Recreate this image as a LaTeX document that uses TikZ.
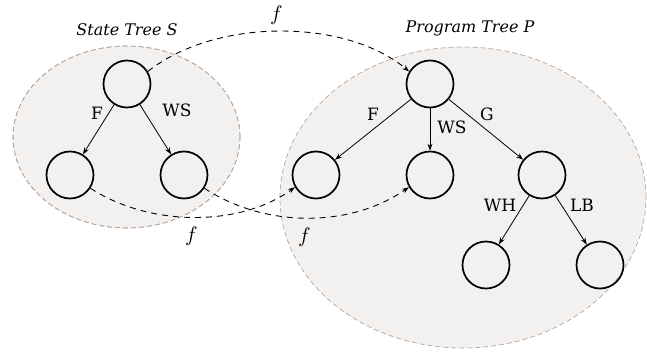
\documentclass[tikz,border=0pt]{standalone}
\usepackage{fontspec}
\setmainfont{DejaVu Serif}
\usepackage{unicode-math}
\setmathfont{Latin Modern Math}
\usetikzlibrary{arrows.meta}
\definecolor{blobfill}{RGB}{243,241,239}
\definecolor{blobline}{RGB}{185,165,150}
\begin{document}
\begin{tikzpicture}[x=1pt,y=-1pt,
  every node/.style={font=\fontsize{16}{19}\selectfont},
  blob/.style={draw=blobline,fill=blobfill,line width=0.7pt,dash pattern=on 5pt off 3pt},
  tn/.style={draw,circle,minimum size=47pt,inner sep=0pt,line width=1.7pt},
  edge/.style={-{Stealth[length=7pt,width=5pt]},line width=0.8pt},
  map/.style={-{Stealth[length=7pt,width=5pt]},line width=0.9pt,dash pattern=on 6pt off 5pt},
  lbl/.style={inner sep=0pt,font=\fontsize{17}{20}\selectfont},
  flbl/.style={inner sep=0pt,font=\fontsize{21}{24}\selectfont}]
\useasboundingbox (0,0) rectangle (647,353);
\fill[blob] (126.5,137) ellipse [x radius=113.5pt, y radius=91pt];
\fill[blob] (463,197.5) ellipse [x radius=183pt, y radius=150.5pt];
\draw[blob,fill=none] (126.5,137) ellipse [x radius=113.5pt, y radius=91pt];
% titles
\node (ts) at (127,30) {\itshape State Tree S};
\node (tp) at (470,28) {\itshape Program Tree P};
% state tree
\node[tn] (s0) at (127,84) {};
\node[tn] (s1) at (70,175) {};
\node[tn] (s2) at (184,175) {};
\draw[edge] (s0) -- (s1);
\draw[edge] (s0) -- (s2);
\node[lbl] (ls1) at (97,113) {F};
\node[lbl] (ls2) at (177,110) {WS};
% program tree
\node[tn] (p0) at (430,84) {};
\node[tn] (p1) at (316,175) {};
\node[tn] (p2) at (430,175) {};
\node[tn] (p3) at (542,175) {};
\node[tn] (p4) at (486,265) {};
\node[tn] (p5) at (600,265) {};
\draw[edge] (p0) -- (p1);
\draw[edge] (p0) -- (p2);
\draw[edge] (p0) -- (p3);
\draw[edge] (p3) -- (p4);
\draw[edge] (p3) -- (p5);
\node[lbl] (lp1) at (373,114) {F};
\node[lbl] (lp2) at (452,127) {WS};
\node[lbl] (lp3) at (487,114) {G};
\node[lbl] (lp4) at (500,205) {WH};
\node[lbl] (lp5) at (582,205) {LB};
% mappings
\draw[map] (s0.31) .. controls (215,18) and (345,18) .. (p0.149);
\draw[map] (s1.-33) .. controls (150,227) and (240,227) .. (p1.-150);
\draw[map] (s2.-33) .. controls (265,228) and (350,228) .. (p2.-150);
\node[flbl] (f0) at (277,15) {$f$};
\node[flbl] (f1) at (192,236) {$f$};
\node[flbl] (f2) at (305,237) {$f$};
\end{tikzpicture}
\end{document}
